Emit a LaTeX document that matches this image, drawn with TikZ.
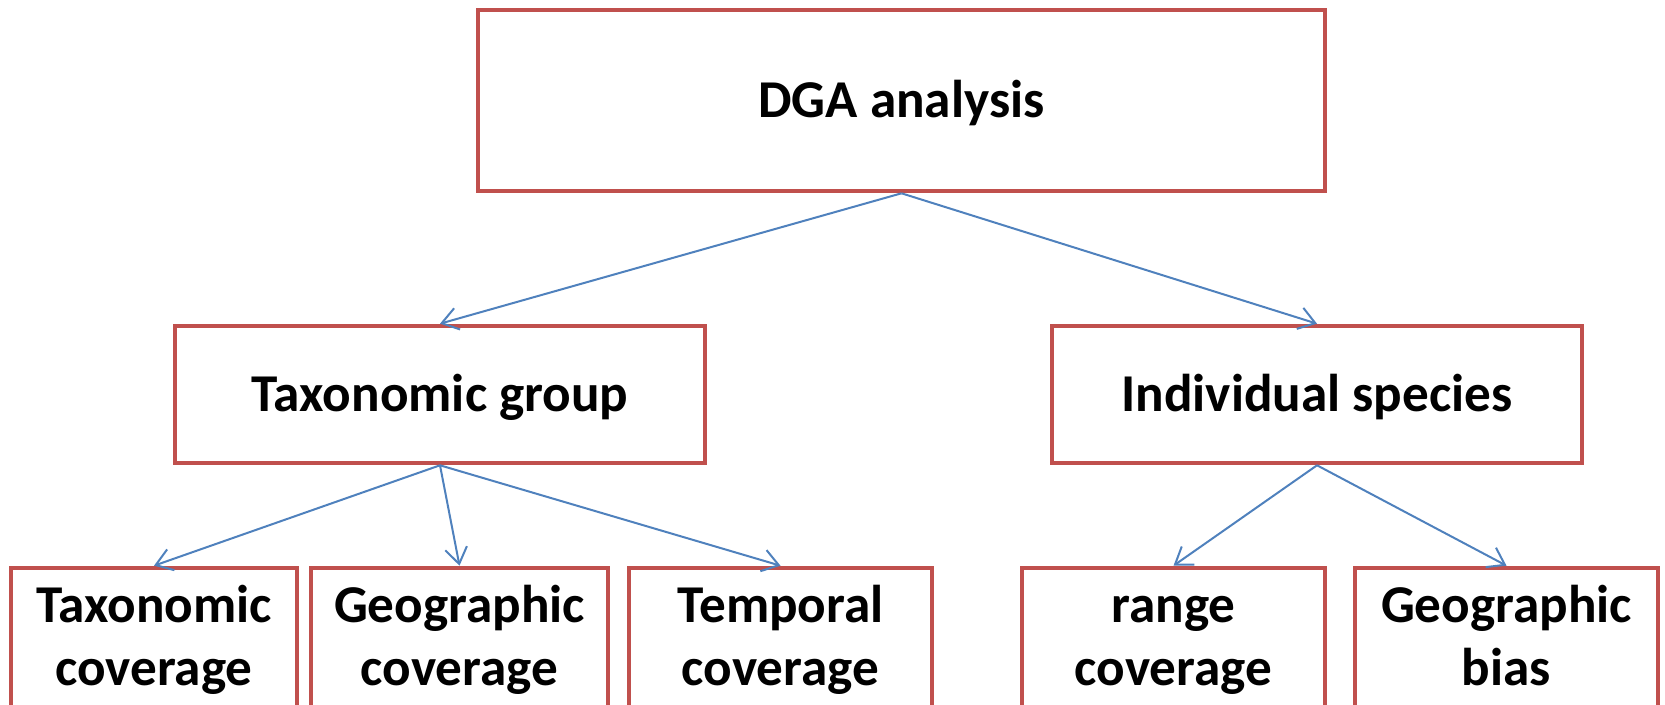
\documentclass[tikz,border=0pt]{standalone}
\usepackage{fontspec}
\setmainfont{Carlito}
\usetikzlibrary{arrows.meta}
\definecolor{boxred}{HTML}{C0504D}
\definecolor{arrowblue}{HTML}{4F81BD}
\tikzset{
  box/.style={draw=boxred, line width=2.3pt, fill=white, align=center, inner sep=0pt,
    font=\fontsize{26.6}{31.5}\selectfont\bfseries},
  onebox/.style={box, text height=16.8pt, text depth=0pt},
  twobox/.style={box, minimum height=73pt},
  link/.style={draw=arrowblue, line width=1pt, -{Straight Barb[length=8pt,width=11pt,line width=1pt]}}
}
\begin{document}
\begin{tikzpicture}[x=0.5pt,y=-0.5pt]
\useasboundingbox (0,0) rectangle (1665,705);
\clip (0,0) rectangle (1665,705);
\node[onebox, minimum width=423.5pt, minimum height=90.5pt] (top) at (901.5,100.5) {DGA analysis};
\node[onebox, minimum width=265pt, minimum height=68.5pt] (tg) at (440,394.5) {Taxonomic group};
\node[onebox, minimum width=265pt, minimum height=68.5pt] (is) at (1317,394.5) {Individual species};
\node[twobox, minimum width=143pt] (b1) at (154,641) {\strut Taxonomic\\coverage\strut};
\node[twobox, minimum width=148.5pt] (b2) at (459.5,641) {\strut Geographic\\coverage\strut};
\node[twobox, minimum width=151.5pt] (b3) at (780.5,641) {\strut Temporal\\coverage\strut};
\node[twobox, minimum width=151.5pt] (b4) at (1173.5,641) {\strut range\\coverage\strut};
\node[twobox, minimum width=151.5pt] (b5) at (1506.5,641) {\strut Geographic\\bias\strut};
\draw[link] (top.south) -- (tg.north);
\draw[link] (top.south) -- (is.north);
\draw[link] (tg.south) -- (b1.north);
\draw[link] (tg.south) -- (b2.north);
\draw[link] (tg.south) -- (b3.north);
\draw[link] (is.south) -- (b4.north);
\draw[link] (is.south) -- (b5.north);
\end{tikzpicture}
\end{document}
